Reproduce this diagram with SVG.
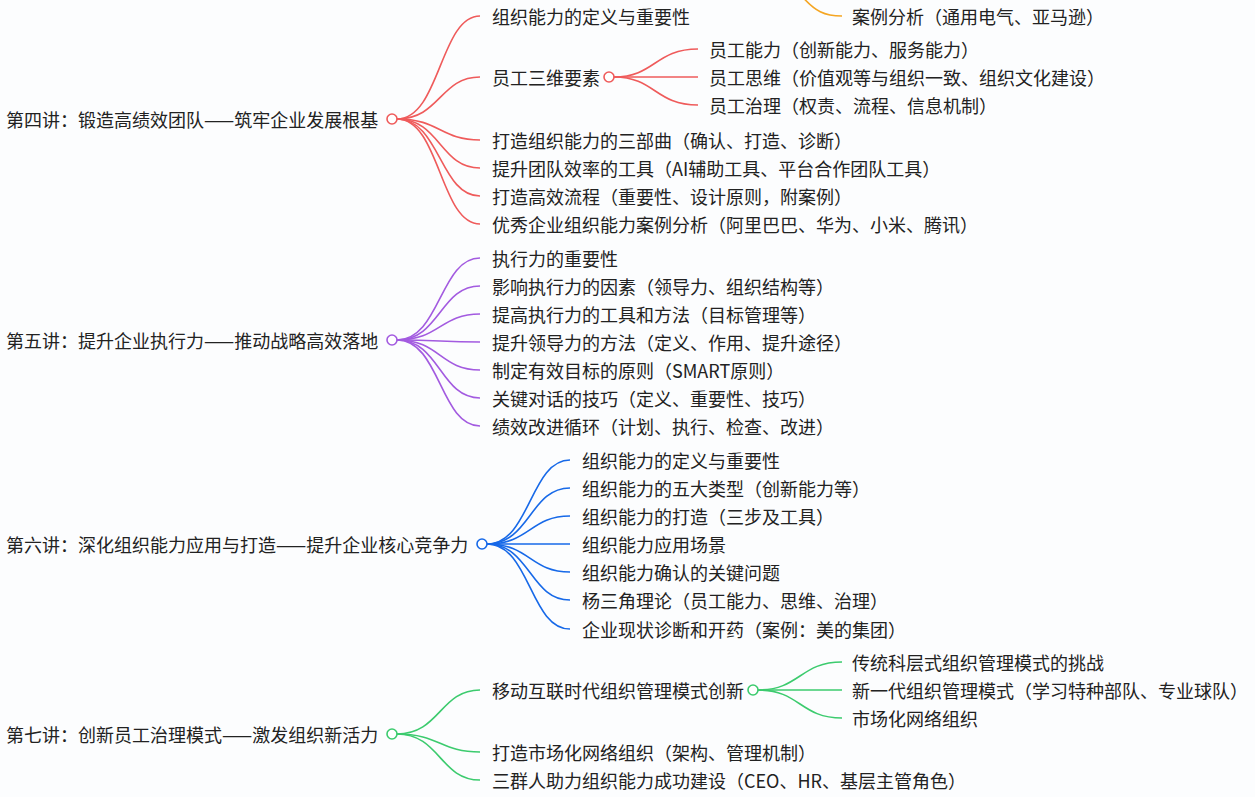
<svg xmlns="http://www.w3.org/2000/svg" width="1255" height="797" viewBox="0 0 1255 797">
<style>
text{font-family:"Noto Sans CJK SC","Noto Sans",sans-serif;font-size:18px;fill:#222;dominant-baseline:central}
path{fill:none;stroke-width:1.6}
circle{fill:#fff;stroke-width:1.6}
.r{stroke:#ef5b5b}.p{stroke:#a35be0}.b{stroke:#1769e8}.g{stroke:#3ccb6e}.o{stroke:#f5a623}
</style>
<rect width="1255" height="797" fill="#fcfdfe"/>
<g id="connectors">
<path class="o" d="M800 -6 C815 12,825 16,842 16"/>
<g class="r">
<path d="M397 119 C440 119,440 16,480 16"/><path d="M397 119 C440 119,440 77,480 77"/>
<path d="M397 119 C440 119,440 140,480 140"/><path d="M397 119 C440 119,440 168,480 168"/>
<path d="M397 119 C440 119,440 196,480 196"/><path d="M397 119 C440 119,440 224,480 224"/>
<path d="M614 77 C655 77,655 49,698 49"/><path d="M614 77 L698 77"/><path d="M614 77 C655 77,655 105,698 105"/>
</g>
<g class="p">
<path d="M397 340 C440 340,440 258,480 258"/><path d="M397 340 C440 340,440 286,480 286"/>
<path d="M397 340 C440 340,440 314,480 314"/><path d="M397 340 C440 340,440 342,480 342"/>
<path d="M397 340 C440 340,440 370,480 370"/><path d="M397 340 C440 340,440 398,480 398"/>
<path d="M397 340 C440 340,440 426,480 426"/>
</g>
<g class="b">
<path d="M487 544 C530 544,530 460,570 460"/><path d="M487 544 C530 544,530 488,570 488"/>
<path d="M487 544 C530 544,530 516,570 516"/><path d="M487 544 L570 544"/>
<path d="M487 544 C530 544,530 572,570 572"/><path d="M487 544 C530 544,530 600,570 600"/>
<path d="M487 544 C530 544,530 629,570 629"/>
</g>
<g class="g">
<path d="M397 734 C440 734,440 690,480 690"/><path d="M397 734 C440 734,440 752,480 752"/>
<path d="M397 734 C440 734,440 780,480 780"/>
<path d="M758 690 C800 690,800 662,842 662"/><path d="M758 690 L842 690"/><path d="M758 690 C800 690,800 718,842 718"/>
</g>
</g>
<g id="orange"><text x="852" y="16">案例分析（通用电气、亚马逊）</text></g>
<g id="l4">
<text x="6" y="119">第四讲：锻造高绩效团队——筑牢企业发展根基</text><circle class="r" cx="392" cy="119" r="5"/>
<text x="492" y="16">组织能力的定义与重要性</text>
<text x="492" y="77">员工三维要素</text><circle class="r" cx="609" cy="77" r="5"/>
<text x="709" y="49">员工能力（创新能力、服务能力）</text>
<text x="709" y="77">员工思维（价值观等与组织一致、组织文化建设）</text>
<text x="709" y="105">员工治理（权责、流程、信息机制）</text>
<text x="492" y="140">打造组织能力的三部曲（确认、打造、诊断）</text>
<text x="492" y="168">提升团队效率的工具（AI辅助工具、平台合作团队工具）</text>
<text x="492" y="196">打造高效流程（重要性、设计原则，附案例）</text>
<text x="492" y="224">优秀企业组织能力案例分析（阿里巴巴、华为、小米、腾讯）</text>
</g>
<g id="l5">
<text x="6" y="340">第五讲：提升企业执行力——推动战略高效落地</text><circle class="p" cx="392" cy="340" r="5"/>
<text x="492" y="258">执行力的重要性</text>
<text x="492" y="286">影响执行力的因素（领导力、组织结构等）</text>
<text x="492" y="314">提高执行力的工具和方法（目标管理等）</text>
<text x="492" y="342">提升领导力的方法（定义、作用、提升途径）</text>
<text x="492" y="370">制定有效目标的原则（SMART原则）</text>
<text x="492" y="398">关键对话的技巧（定义、重要性、技巧）</text>
<text x="492" y="426">绩效改进循环（计划、执行、检查、改进）</text>
</g>
<g id="l6">
<text x="6" y="544">第六讲：深化组织能力应用与打造——提升企业核心竞争力</text><circle class="b" cx="482" cy="544" r="5"/>
<text x="582" y="460">组织能力的定义与重要性</text>
<text x="582" y="488">组织能力的五大类型（创新能力等）</text>
<text x="582" y="516">组织能力的打造（三步及工具）</text>
<text x="582" y="544">组织能力应用场景</text>
<text x="582" y="572">组织能力确认的关键问题</text>
<text x="582" y="600">杨三角理论（员工能力、思维、治理）</text>
<text x="582" y="629">企业现状诊断和开药（案例：美的集团）</text>
</g>
<g id="l7">
<text x="6" y="734">第七讲：创新员工治理模式——激发组织新活力</text><circle class="g" cx="392" cy="734" r="5"/>
<text x="492" y="690">移动互联时代组织管理模式创新</text><circle class="g" cx="753" cy="690" r="5"/>
<text x="852" y="662">传统科层式组织管理模式的挑战</text>
<text x="852" y="690">新一代组织管理模式（学习特种部队、专业球队）</text>
<text x="852" y="718">市场化网络组织</text>
<text x="492" y="752">打造市场化网络组织（架构、管理机制）</text>
<text x="492" y="780">三群人助力组织能力成功建设（CEO、HR、基层主管角色）</text>
</g>
</svg>
